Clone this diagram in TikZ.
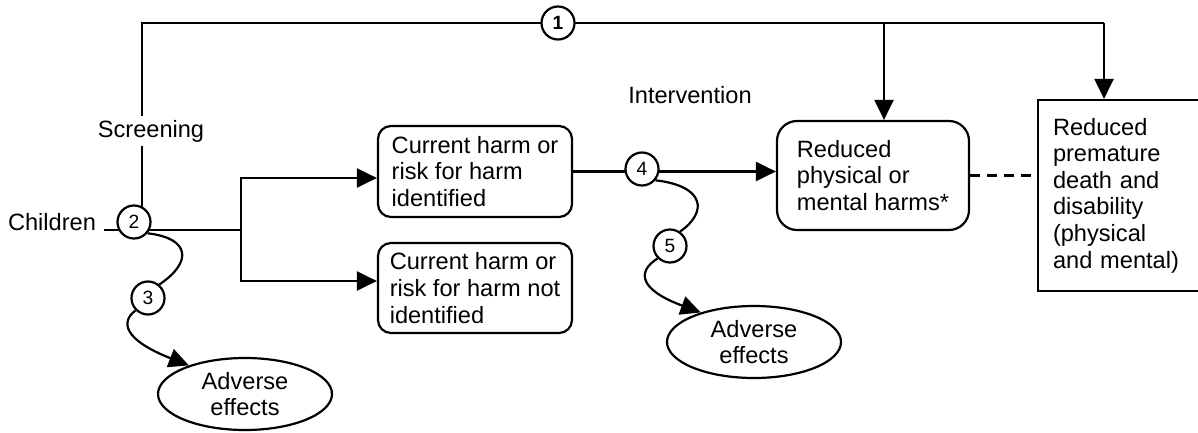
\documentclass[tikz,border=0pt]{standalone}
\usepackage{fontspec}
\setmainfont{Liberation Sans}
\usetikzlibrary{arrows.meta,shapes.geometric}

\begin{document}
\begin{tikzpicture}
[
    x=0.5pt, y=-0.5pt,
    line width=1.1pt,
    font=\fontsize{11.8}{13.3}\selectfont,
    arr/.style={-{Triangle[length=10pt,width=9.5pt]}},
    box/.style={draw, rounded corners=6.5pt, align=left, minimum width=97pt, minimum height=45.5pt, inner sep=0pt},
    num/.style={draw, circle, fill=white, inner sep=0pt, minimum size=16.5pt, font=\fontsize{9.6}{10}\selectfont},
    effect/.style={draw, ellipse, align=center, inner sep=0pt, minimum width=87pt, minimum height=36pt},
]
\useasboundingbox (0,0) rectangle (1198,433);
\clip (0,0) rectangle (1198,433);

\node [anchor=base east, inner sep=3.5pt] (kids) at (104,230) {Children};
\node [box] (harm) at (475,171.5)
{Current harm or\\risk for harm\\identified};
\node [box, minimum height=45pt] (noharm) at (475,288)
{Current harm or\\risk for harm not\\identified};
\node [box, rounded corners=10pt, minimum width=96pt, minimum height=54.5pt] (reduced) at (873,175.5)
{Reduced\\physical or\\mental harms*};
\node [draw, align=left, text width=71pt, inner xsep=7.5pt, minimum height=95.5pt] (death) at (1124,195.5)
{Reduced\\premature\\death and\\disability\\(physical\\and mental)};

\coordinate (p1) at (558,23);
\coordinate (p2) at (134,222);
\coordinate (p3) at (148,298);
\coordinate (p4) at (642,169);
\coordinate (p5) at (670,246);
\coordinate (split) at (241,230);
\coordinate (up) at (241,178);
\coordinate (down) at (241,281);
\coordinate (corner) at (142,23);
\coordinate (drop1) at (884,23);
\coordinate (drop2) at (1104,23);

\draw (kids.base east) -- (split);
\draw [arr] (split) -- (up) -- (up -| harm.west);
\draw [arr] (split) -- (down) -- (down -| noharm.west);
\draw (p2 -| corner) -- (corner) -- (drop2);
\draw [arr] (drop1) -- (drop1 |- reduced.north);
\draw [arr] (drop2) -- (drop2 |- death.north);
\draw [arr] (harm.east) -- (reduced.west |- harm.east);
\draw [dash pattern=on 5pt off 3.5pt] (reduced.east) -- (death.west |- reduced.east);

\node [fill=white, inner sep=2pt, anchor=base] (screen) at (151,137) {Screening};
\node [anchor=base] (treat) at (690,104) {Intervention};

\node [num, font=\fontsize{9.6}{10}\selectfont\bfseries] (c1) at (p1) {1};
\node [num] (c2) at (p2) {2};
\node [num] (c3) at (p3) {3};
\node [num] (c4) at (p4) {4};
\node [num] (c5) at (p5) {5};

\node [effect] (harms1) at (245,394) {Adverse\\effects};
\node [effect] (harms2) at (754,342) {Adverse\\effects};

\draw (c2.-40) .. controls (190,238) and (193,262) .. (c3.50);
\draw [arr] (c3.-135) .. controls (120,322) and (124,340) .. (harms1.153);
\draw (c4.-40) .. controls (705,186) and (708,212) .. (c5.55);
\draw [arr] (c5.-135) .. controls (636,272) and (640,290) .. (harms2.151);
\end{tikzpicture}
\end{document}
